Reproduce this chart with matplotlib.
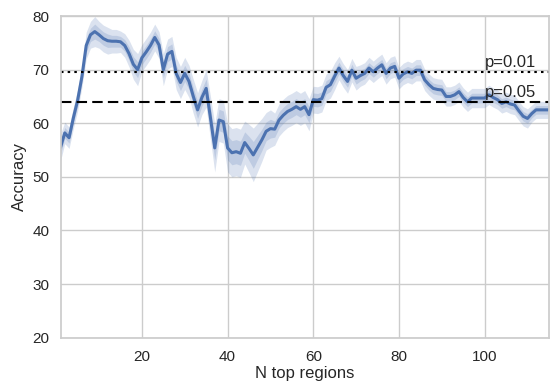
import matplotlib
matplotlib.use("Agg")
import matplotlib.pyplot as plt
import numpy as np
import seaborn as sns

# number of top regions used (1..115)
n_regions = list(range(1, 116))

# mean accuracy
accuracy = [
    55.5, 58.2, 57.3, 61.0, 64.3, 68.7, 74.5, 76.5, 77.1, 76.5,
    75.8, 75.4, 75.3, 75.3, 75.2, 74.5, 73.0, 71.0, 70.0, 72.2,
    73.3, 74.5, 76.0, 74.6, 70.0, 72.9, 73.4, 69.3, 67.6, 69.3,
    67.8, 65.0, 62.5, 64.8, 66.5, 61.0, 55.4, 60.6, 60.3, 55.4,
    54.5, 54.7, 54.4, 56.4, 55.3, 54.1, 55.5, 56.9, 58.5, 59.0,
    58.9, 60.6, 61.5, 62.2, 62.6, 63.1, 62.6, 63.1, 61.6, 64.4,
    64.3, 64.6, 66.7, 67.2, 68.8, 70.3, 68.9, 67.8, 69.9, 68.4,
    68.9, 69.3, 70.3, 69.6, 70.3, 70.9, 69.3, 70.3, 70.6, 68.4,
    69.2, 69.6, 69.3, 69.9, 69.9, 68.1, 67.2, 66.5, 66.3, 66.2,
    65.0, 65.0, 65.3, 65.9, 64.8, 64.0, 64.7, 64.7, 64.7, 64.7,
    65.3, 64.8, 64.4, 63.7, 64.0, 63.6, 63.4, 62.3, 61.3, 60.9,
    61.8, 62.5, 62.5, 62.5, 62.5,
]

# half width of the outer (light) band
spread = [
    2.5, 2.0, 2.0, 2.0, 2.0, 2.0, 2.5, 2.5, 2.8, 2.5,
    2.5, 2.5, 2.2, 2.2, 2.0, 2.2, 2.5, 2.8, 3.0, 2.5,
    2.5, 2.5, 2.5, 2.5, 3.0, 2.8, 2.8, 3.0, 3.0, 3.0,
    3.0, 3.2, 3.2, 3.2, 3.5, 4.0, 4.5, 4.0, 4.0, 4.5,
    4.5, 4.5, 4.5, 4.0, 4.5, 5.0, 4.5, 4.0, 3.5, 3.5,
    3.0, 3.0, 3.0, 3.0, 3.0, 3.0, 3.0, 3.0, 3.0, 2.5,
    2.5, 2.5, 2.5, 2.5, 2.5, 2.2, 2.2, 2.2, 2.2, 2.2,
    2.0, 2.0, 2.0, 2.0, 2.0, 2.0, 2.0, 2.0, 2.0, 2.0,
    2.0, 2.0, 2.0, 2.0, 2.0, 2.0, 2.0, 2.0, 2.0, 2.0,
    1.8, 1.8, 1.8, 1.8, 1.8, 1.8, 1.8, 1.8, 1.8, 1.8,
    1.8, 1.8, 1.8, 1.8, 1.8, 1.8, 1.8, 1.8, 1.8, 1.8,
    1.6, 1.6, 1.6, 1.6, 1.6,
]

thresholds = {"p=0.01": 69.6, "p=0.05": 63.9}

sns.set_theme(style="whitegrid")
plt.rcParams["font.family"] = ["Liberation Sans", "DejaVu Sans"]

fig = plt.figure(figsize=(5.5, 3.82), dpi=100)
ax = fig.add_axes([0.110, 0.116, 0.888, 0.842])

x = np.array(n_regions)
y = np.array(accuracy)
s = np.array(spread)
color = "#4c72b0"

ax.fill_between(x, y - s, y + s, color=color, alpha=0.2, linewidth=0)
ax.fill_between(x, y - s / 2, y + s / 2, color=color, alpha=0.2, linewidth=0)
ax.plot(x, y, color=color, linewidth=2.2)

ax.axhline(thresholds["p=0.01"], color="black", linewidth=1.5, linestyle=(0, (1.2, 2)))
ax.axhline(thresholds["p=0.05"], color="black", linewidth=1.5, linestyle=(0, (5, 2.5)))
for label, val in thresholds.items():
    ax.text(100, val + 0.4, label, fontsize=12, va="bottom", ha="left", color="#262626")

ax.set_xlim(1, 115)
ax.set_ylim(20, 80)
ax.set_xticks([20, 40, 60, 80, 100])
ax.tick_params(axis="x", labelsize=11, pad=3)
ax.tick_params(axis="y", labelsize=11, pad=2)
ax.set_xlabel("N top regions", fontsize=12, labelpad=1)
ax.set_ylabel("Accuracy", fontsize=12, labelpad=4)

fig.savefig("out.png", dpi=100)
